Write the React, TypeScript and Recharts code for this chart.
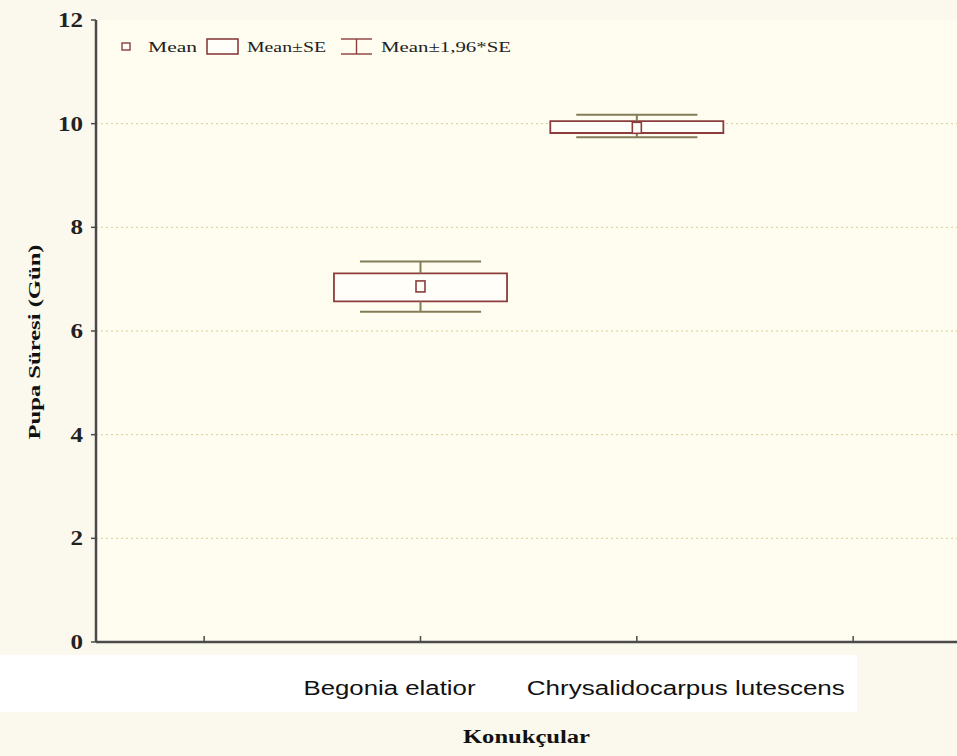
import React from "react";
import {
  ComposedChart,
  XAxis,
  YAxis,
  CartesianGrid,
  ReferenceArea,
  ReferenceLine,
  Scatter,
} from "recharts";

// ---- data ----
const categories = ["Begonia elatior", "Chrysalidocarpus lutescens"];
const categoryPositions = [2, 3];
const xTicks = [1, 2, 3, 4];
const yTicks = [0, 2, 4, 6, 8, 10, 12];
const means = [6.86, 9.92];
const seLower = [6.57, 9.82];
const seUpper = [7.11, 10.05];
const ciLower = [6.37, 9.74];
const ciUpper = [7.34, 10.17];
const legendLabels = ["Mean", "Mean±SE", "Mean±1,96*SE"];
const xTitle = "Konukçular";
const yTitle = "Pupa Süresi (Gün)";

// ---- style ----
const BOX_HALF = 0.4;
const CAP_HALF = 0.28;
const BOX_COLOR = "#8b3d3d";
const WHISKER_COLOR = "#847c58";
const AXIS_COLOR = "#4a4a4a";
const SERIF = "'Liberation Serif', 'Times New Roman', serif";
const SANS = "'Liberation Sans', Arial, sans-serif";
const labelDx = [-31, 49];
const labelLen = [172, 318];
const X_DOMAIN = [0.5, 4.48];

const meanData = categoryPositions.map((x, i) => ({ x, y: means[i] }));

const MeanMarker = (props: any) => {
  const { cx, cy } = props;
  if (cx == null || cy == null) return null;
  return (
    <rect x={cx - 4.5} y={cy - 5.5} width={9} height={11} fill="#fffef8" stroke={BOX_COLOR} strokeWidth={1.6} />
  );
};

const BottomTick = (props: any) => {
  const { x, y, payload } = props;
  const idx = categoryPositions.indexOf(payload.value);
  return (
    <g>
      <line x1={x} x2={x} y1={y} y2={y - 6} stroke={AXIS_COLOR} strokeWidth={1.5} />
      {idx >= 0 && (
        <text
          x={x + labelDx[idx]}
          y={y + 53}
          textAnchor="middle"
          fontFamily={SANS}
          fontSize={20}
          fill="#111"
          textLength={labelLen[idx]}
          lengthAdjust="spacingAndGlyphs"
        >
          {categories[idx]}
        </text>
      )}
    </g>
  );
};

const TopTick = (props: any) => {
  const { x, y } = props;
  return <line x1={x} x2={x} y1={y} y2={y + 5} stroke={AXIS_COLOR} strokeWidth={1.5} />;
};

const LeftTick = (props: any) => {
  const { x, y, payload } = props;
  const s = String(payload.value);
  return (
    <text
      x={x - 2}
      y={y + 7}
      textAnchor="end"
      fontFamily={SERIF}
      fontWeight="bold"
      fontSize={20}
      fill="#222"
      textLength={s.length * 12.5}
      lengthAdjust="spacingAndGlyphs"
    >
      {s}
    </text>
  );
};

const LegendBlock = () => (
  <svg width={420} height={32} style={{ display: "block" }}>
    <rect x={12} y={13} width={8} height={7} fill="#fffef8" stroke={BOX_COLOR} strokeWidth={1.4} />
    <text x={38} y={22} fontFamily={SERIF} fontSize={15} fill="#222" textLength={49} lengthAdjust="spacingAndGlyphs">
      {legendLabels[0]}
    </text>
    <rect x={97} y={9} width={31} height={15} fill="#fffef8" stroke={BOX_COLOR} strokeWidth={1.6} />
    <text x={137} y={22} fontFamily={SERIF} fontSize={15} fill="#222" textLength={79} lengthAdjust="spacingAndGlyphs">
      {legendLabels[1]}
    </text>
    <line x1={231} x2={262} y1={9} y2={9} stroke={BOX_COLOR} strokeWidth={1.4} />
    <line x1={231} x2={262} y1={24} y2={24} stroke={BOX_COLOR} strokeWidth={1.4} />
    <line x1={246.5} x2={246.5} y1={9} y2={24} stroke={BOX_COLOR} strokeWidth={1.4} />
    <text x={271} y={22} fontFamily={SERIF} fontSize={15} fill="#222" textLength={130} lengthAdjust="spacingAndGlyphs">
      {legendLabels[2]}
    </text>
  </svg>
);

export default function App() {
  return (
    <div style={{ position: "absolute", left: 0, top: 0, width: 957, height: 756, background: "#fbf9ee", overflow: "hidden" }}>
      <div style={{ position: "absolute", left: 0, top: 655, width: 857, height: 57, background: "#ffffff" }} />
      <div style={{ position: "absolute", left: 0, top: 0 }}>
        <ComposedChart width={957} height={756} margin={{ top: 20, right: 0, bottom: 0, left: 0 }}>
          <CartesianGrid
            vertical={false}
            horizontalValues={[2, 4, 6, 8, 10]}
            stroke="#d6cb93"
            strokeDasharray="2 3"
            fill="#fffdf0"
            fillOpacity={1}
          />
          <XAxis
            dataKey="x"
            type="number"
            domain={X_DOMAIN}
            ticks={xTicks}
            allowDataOverflow
            height={114}
            tickSize={0}
            tickMargin={0}
            tickLine={false}
            axisLine={{ stroke: AXIS_COLOR, strokeWidth: 2.5 }}
            tick={<BottomTick />}
            interval={0}
            label={{
              content: (p: any) => {
                const vb = p.viewBox || {};
                return (
                  <text
                    x={vb.x + vb.width / 2}
                    y={743}
                    textAnchor="middle"
                    fontFamily={SERIF}
                    fontWeight="bold"
                    fontSize={18}
                    fill="#111"
                    textLength={127}
                    lengthAdjust="spacingAndGlyphs"
                  >
                    {xTitle}
                  </text>
                );
              },
            }}
          />
          <XAxis
            xAxisId="top"
            orientation="top"
            type="number"
            domain={X_DOMAIN}
            ticks={xTicks}
            allowDataOverflow
            height={0}
            tickSize={0}
            tickMargin={0}
            tickLine={false}
            axisLine={{ stroke: AXIS_COLOR, strokeWidth: 2 }}
            tick={<TopTick />}
            interval={0}
          />
          <YAxis
            type="number"
            domain={[0, 12]}
            ticks={yTicks}
            allowDataOverflow
            width={96}
            tickSize={5}
            tickMargin={6}
            tickLine={{ stroke: AXIS_COLOR, strokeWidth: 1.5 }}
            axisLine={{ stroke: AXIS_COLOR, strokeWidth: 2.5 }}
            tick={<LeftTick />}
            interval={0}
            label={{
              content: (p: any) => {
                const vb = p.viewBox || {};
                const cx = 36;
                const cy = vb.y + vb.height / 2 + 11;
                return (
                  <text
                    x={cx}
                    y={cy}
                    transform={`rotate(-90 ${cx} ${cy})`}
                    textAnchor="middle"
                    dominantBaseline="middle"
                    fontFamily={SERIF}
                    fontWeight="bold"
                    fontSize={17}
                    fill="#111"
                    textLength={195}
                    lengthAdjust="spacingAndGlyphs"
                  >
                    {yTitle}
                  </text>
                );
              },
            }}
          />
          {categoryPositions.map((x, i) => (
            <ReferenceArea
              key={`box-${i}`}
              x1={x - BOX_HALF}
              x2={x + BOX_HALF}
              y1={seLower[i]}
              y2={seUpper[i]}
              fill="#fffef8"
              fillOpacity={1}
              stroke={BOX_COLOR}
              strokeWidth={1.8}
              ifOverflow="visible"
            />
          ))}
          {categoryPositions.map((x, i) => (
            <ReferenceLine
              key={`capu-${i}`}
              segment={[{ x: x - CAP_HALF, y: ciUpper[i] }, { x: x + CAP_HALF, y: ciUpper[i] }]}
              stroke={WHISKER_COLOR}
              strokeWidth={2}
              ifOverflow="visible"
            />
          ))}
          {categoryPositions.map((x, i) => (
            <ReferenceLine
              key={`capl-${i}`}
              segment={[{ x: x - CAP_HALF, y: ciLower[i] }, { x: x + CAP_HALF, y: ciLower[i] }]}
              stroke={WHISKER_COLOR}
              strokeWidth={2}
              ifOverflow="visible"
            />
          ))}
          {categoryPositions.map((x, i) => (
            <ReferenceLine
              key={`stemu-${i}`}
              segment={[{ x, y: seUpper[i] }, { x, y: ciUpper[i] }]}
              stroke={WHISKER_COLOR}
              strokeWidth={2}
              ifOverflow="visible"
            />
          ))}
          {categoryPositions.map((x, i) => (
            <ReferenceLine
              key={`steml-${i}`}
              segment={[{ x, y: seLower[i] }, { x, y: ciLower[i] }]}
              stroke={WHISKER_COLOR}
              strokeWidth={2}
              ifOverflow="visible"
            />
          ))}
          <Scatter data={meanData} dataKey="y" shape={<MeanMarker />} isAnimationActive={false} legendType="none" />
        </ComposedChart>
      </div>
      <div style={{ position: "absolute", left: 110, top: 30 }}>
        <LegendBlock />
      </div>
    </div>
  );
}
